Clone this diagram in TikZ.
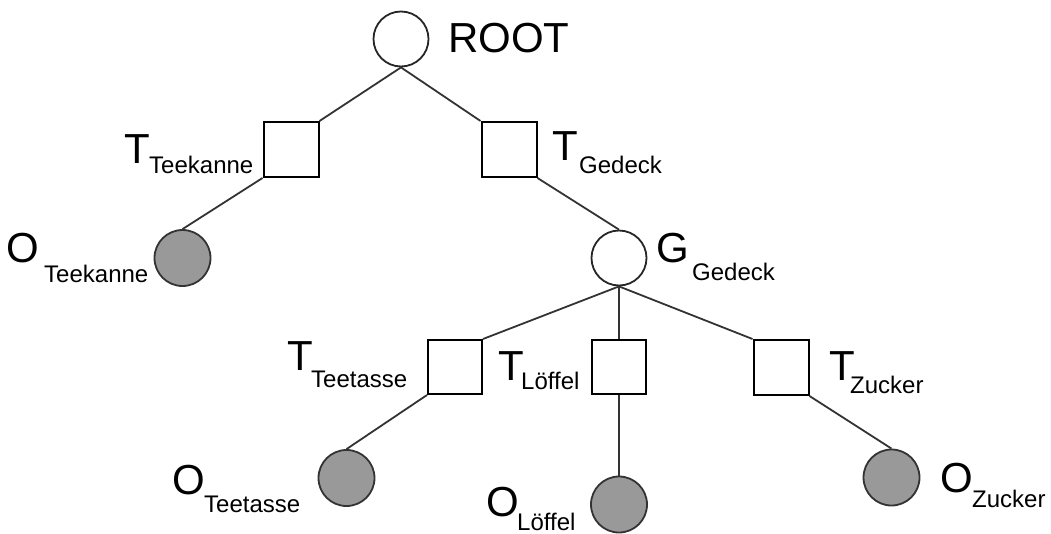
\documentclass[tikz,border=0pt]{standalone}
\usepackage{fontspec}
\setmainfont{Liberation Sans}
\begin{document}
\begin{tikzpicture}[x=1pt,y=-1pt,
  circ/.style={circle,draw=black!85,line width=1.8pt,inner sep=0pt,minimum size=55pt,fill=white},
  leaf/.style={circle,draw=black!80,line width=1.8pt,inner sep=0pt,minimum size=56pt,fill=black!40},
  sq/.style={rectangle,draw=black,line width=2pt,inner sep=0pt,minimum size=55pt,fill=white},
  conn/.style={draw=black!80,line width=1.8pt},
  big/.style={anchor=base west,inner sep=0pt,font=\fontsize{42}{48}\selectfont},
  small/.style={anchor=base west,inner sep=0pt,font=\fontsize{24}{28}\selectfont}]
\useasboundingbox (0,0) rectangle (1051,533);
% nodes
\node[circ] (root) at (401,39) {};
\node[sq] (tTk) at (291,149.5) {};
\node[sq] (tGd) at (509,149.5) {};
\node[leaf] (oTk) at (182.5,258) {};
\node[circ] (gGd) at (619,258) {};
\node[sq,minimum size=54pt] (tTt) at (455,367) {};
\node[sq,minimum size=54pt] (tLf) at (619,367) {};
\node[sq] (tZk) at (781,367.5) {};
\node[leaf] (oTt) at (346.5,478) {};
\node[leaf] (oLf) at (619,504.5) {};
\node[leaf] (oZk) at (891.5,477.5) {};
% connectors
\draw[conn] (root.south) -- (tTk.north east);
\draw[conn] (root.south) -- (tGd.north west);
\draw[conn] (tTk.south west) -- (oTk.north);
\draw[conn] (tGd.south east) -- (gGd.north);
\draw[conn] (gGd.south) -- (tTt.north east);
\draw[conn] (gGd.south) -- (tLf.north);
\draw[conn] (gGd.south) -- (tZk.north west);
\draw[conn] (tTt.south west) -- (oTt.north);
\draw[conn] (tLf.south) -- (oLf.north);
\draw[conn] (tZk.south east) -- (oZk.north);
% labels
\node[big] (lRoot) at (448,52) {ROOT};
\node[big] (lTTk) at (124,163) {T};
\node[small] (lTTks) at (149,173) {Teekanne};
\node[big] (lOTk) at (6,262) {O};
\node[small] (lOTks) at (44,282) {Teekanne};
\node[big] (lTGd) at (552,160) {T};
\node[small] (lTGds) at (579,173) {Gedeck};
\node[big] (lGGd) at (656,262) {G};
\node[small] (lGGds) at (692,280) {Gedeck};
\node[big] (lTTt) at (287,370) {T};
\node[small] (lTTts) at (311,387) {Teetasse};
\node[big] (lTLf) at (498,380) {T};
\node[small] (lTLfs) at (521,389) {Löffel};
\node[big] (lTZk) at (829,380) {T};
\node[small] (lTZks) at (850,393) {Zucker};
\node[big] (lOTt) at (172,494) {O};
\node[small] (lOTts) at (204,512) {Teetasse};
\node[big] (lOLf) at (486,516) {O};
\node[small] (lOLfs) at (517,530) {Löffel};
\node[big] (lOZk) at (940,492) {O};
\node[small] (lOZks) at (972,507) {Zucker};
\end{tikzpicture}
\end{document}
